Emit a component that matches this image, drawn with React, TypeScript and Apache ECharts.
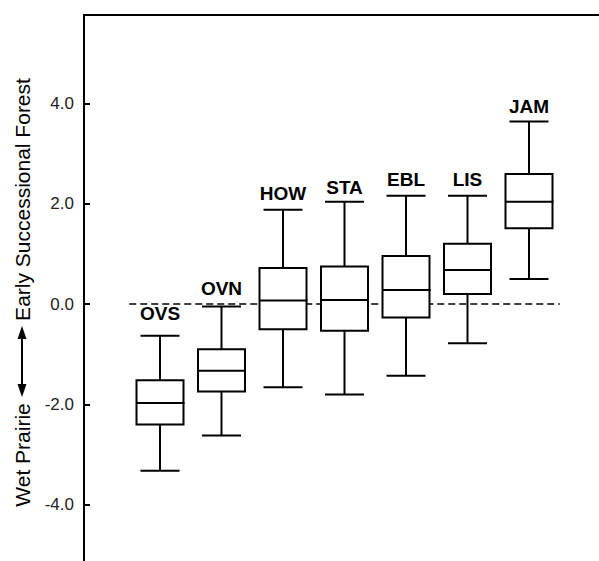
import React, { useEffect, useRef } from "react";
import * as echarts from "echarts";

// ---- data ----
const categories = ["OVS", "OVN", "HOW", "STA", "EBL", "LIS", "JAM"];
const whiskerLow = [-3.32, -2.62, -1.66, -1.8, -1.43, -0.78, 0.5];
const quartile1 = [-2.4, -1.74, -0.5, -0.53, -0.27, 0.2, 1.51];
const medians = [-1.97, -1.33, 0.07, 0.08, 0.28, 0.68, 2.04];
const quartile3 = [-1.52, -0.9, 0.72, 0.75, 0.96, 1.2, 2.59];
const whiskerHigh = [-0.63, -0.05, 1.88, 2.04, 2.16, 2.16, 3.64];
const yTicks = [-4, -2, 0, 2, 4];
const referenceValue = 0;

// ---- styling (pixels) ----
const labelOffsets = [22, 18, 16.5, 14, 16, 16, 15];
const FONT = '"Liberation Sans", Arial, Helvetica, sans-serif';

export default function App() {
  const ref = useRef<HTMLDivElement>(null);

  useEffect(() => {
    document.body.style.margin = "0";
    const chart = echarts.init(ref.current!, null, { renderer: "svg" });

    const boxData = categories.map((c, i) => [
      i,
      whiskerLow[i],
      quartile1[i],
      medians[i],
      quartile3[i],
      whiskerHigh[i],
    ]);

    const renderItem = (params: any, api: any) => {
      const idx = api.value(0);
      const pMin = api.coord([idx, api.value(1)]);
      const pQ1 = api.coord([idx, api.value(2)]);
      const pMed = api.coord([idx, api.value(3)]);
      const pQ3 = api.coord([idx, api.value(4)]);
      const pMax = api.coord([idx, api.value(5)]);
      const cx = pMin[0];
      const half = 23.5;
      const cap = 19.5;
      const ls = { stroke: "#000", lineWidth: 2 };
      return {
        type: "group",
        children: [
          { type: "line", shape: { x1: cx, y1: pQ3[1], x2: cx, y2: pMax[1] }, style: ls },
          { type: "line", shape: { x1: cx, y1: pQ1[1], x2: cx, y2: pMin[1] }, style: ls },
          { type: "line", shape: { x1: cx - cap, y1: pMax[1], x2: cx + cap, y2: pMax[1] }, style: ls },
          { type: "line", shape: { x1: cx - cap, y1: pMin[1], x2: cx + cap, y2: pMin[1] }, style: ls },
          {
            type: "rect",
            shape: { x: cx - half, y: pQ3[1], width: half * 2, height: pQ1[1] - pQ3[1] },
            style: { fill: "#fff", stroke: "#000", lineWidth: 2 },
          },
          { type: "line", shape: { x1: cx - half, y1: pMed[1], x2: cx + half + 1, y2: pMed[1] }, style: ls },
          {
            type: "text",
            x: cx,
            y: pMax[1] - labelOffsets[idx],
            style: {
              text: categories[idx],
              fill: "#000",
              font: `bold 19px ${FONT}`,
              textAlign: "center",
              textVerticalAlign: "middle",
              align: "center",
              verticalAlign: "middle",
            },
          },
        ],
      };
    };

    const option: any = {
      animation: false,
      grid: { left: 129.25, right: 39.25, top: 15, bottom: 0, containLabel: false },
      xAxis: {
        type: "category",
        data: categories,
        show: false,
        boundaryGap: true,
      },
      yAxis: {
        type: "value",
        min: -5.12,
        max: 5.76,
        offset: 45.25,
        splitLine: { show: false },
        axisLine: { show: true, lineStyle: { color: "#000", width: 2 } },
        axisTick: {
          show: true,
          inside: true,
          length: 6,
          lineStyle: { color: "#000", width: 2 },
          customValues: yTicks,
        },
        axisLabel: {
          customValues: yTicks,
          formatter: (v: number) => v.toFixed(1),
          margin: 10,
          fontSize: 17,
          color: "#222",
          fontFamily: FONT,
        },
      },
      series: [
        {
          type: "line",
          data: [],
          silent: true,
          z: 1,
          markLine: {
            silent: true,
            symbol: "none",
            z: 1,
            label: { show: false },
            lineStyle: { type: [7, 4], color: "#000", width: 1.5 },
            data: [{ yAxis: referenceValue }],
          },
        },
        {
          type: "custom",
          z: 10,
          renderItem,
          encode: { x: 0, y: [1, 2, 3, 4, 5] },
          data: boxData,
        },
      ],
      graphic: [
        {
          type: "line",
          shape: { x1: 83, y1: 15, x2: 599, y2: 15 },
          style: { stroke: "#000", lineWidth: 2 },
        },
        {
          type: "text",
          x: 22,
          y: 455,
          rotation: Math.PI / 2,
          style: {
            text: "Wet Prairie",
            fill: "#000",
            font: `21px ${FONT}`,
            textAlign: "center",
            textVerticalAlign: "middle",
            align: "center",
            verticalAlign: "middle",
          },
        },
        {
          type: "text",
          x: 22,
          y: 199.5,
          rotation: Math.PI / 2,
          style: {
            text: "Early Successional Forest",
            fill: "#000",
            font: `21px ${FONT}`,
            textAlign: "center",
            textVerticalAlign: "middle",
            align: "center",
            verticalAlign: "middle",
          },
        },
        {
          type: "line",
          shape: { x1: 22, y1: 337, x2: 22, y2: 386 },
          style: { stroke: "#000", lineWidth: 2 },
        },
        {
          type: "polygon",
          shape: { points: [[22, 326], [17.5, 339], [26.5, 339]] },
          style: { fill: "#000" },
        },
        {
          type: "polygon",
          shape: { points: [[22, 397], [17.5, 384], [26.5, 384]] },
          style: { fill: "#000" },
        },
      ],
    };

    chart.setOption(option);
    return () => chart.dispose();
  }, []);

  return <div ref={ref} style={{ width: 599, height: 561 }} />;
}
